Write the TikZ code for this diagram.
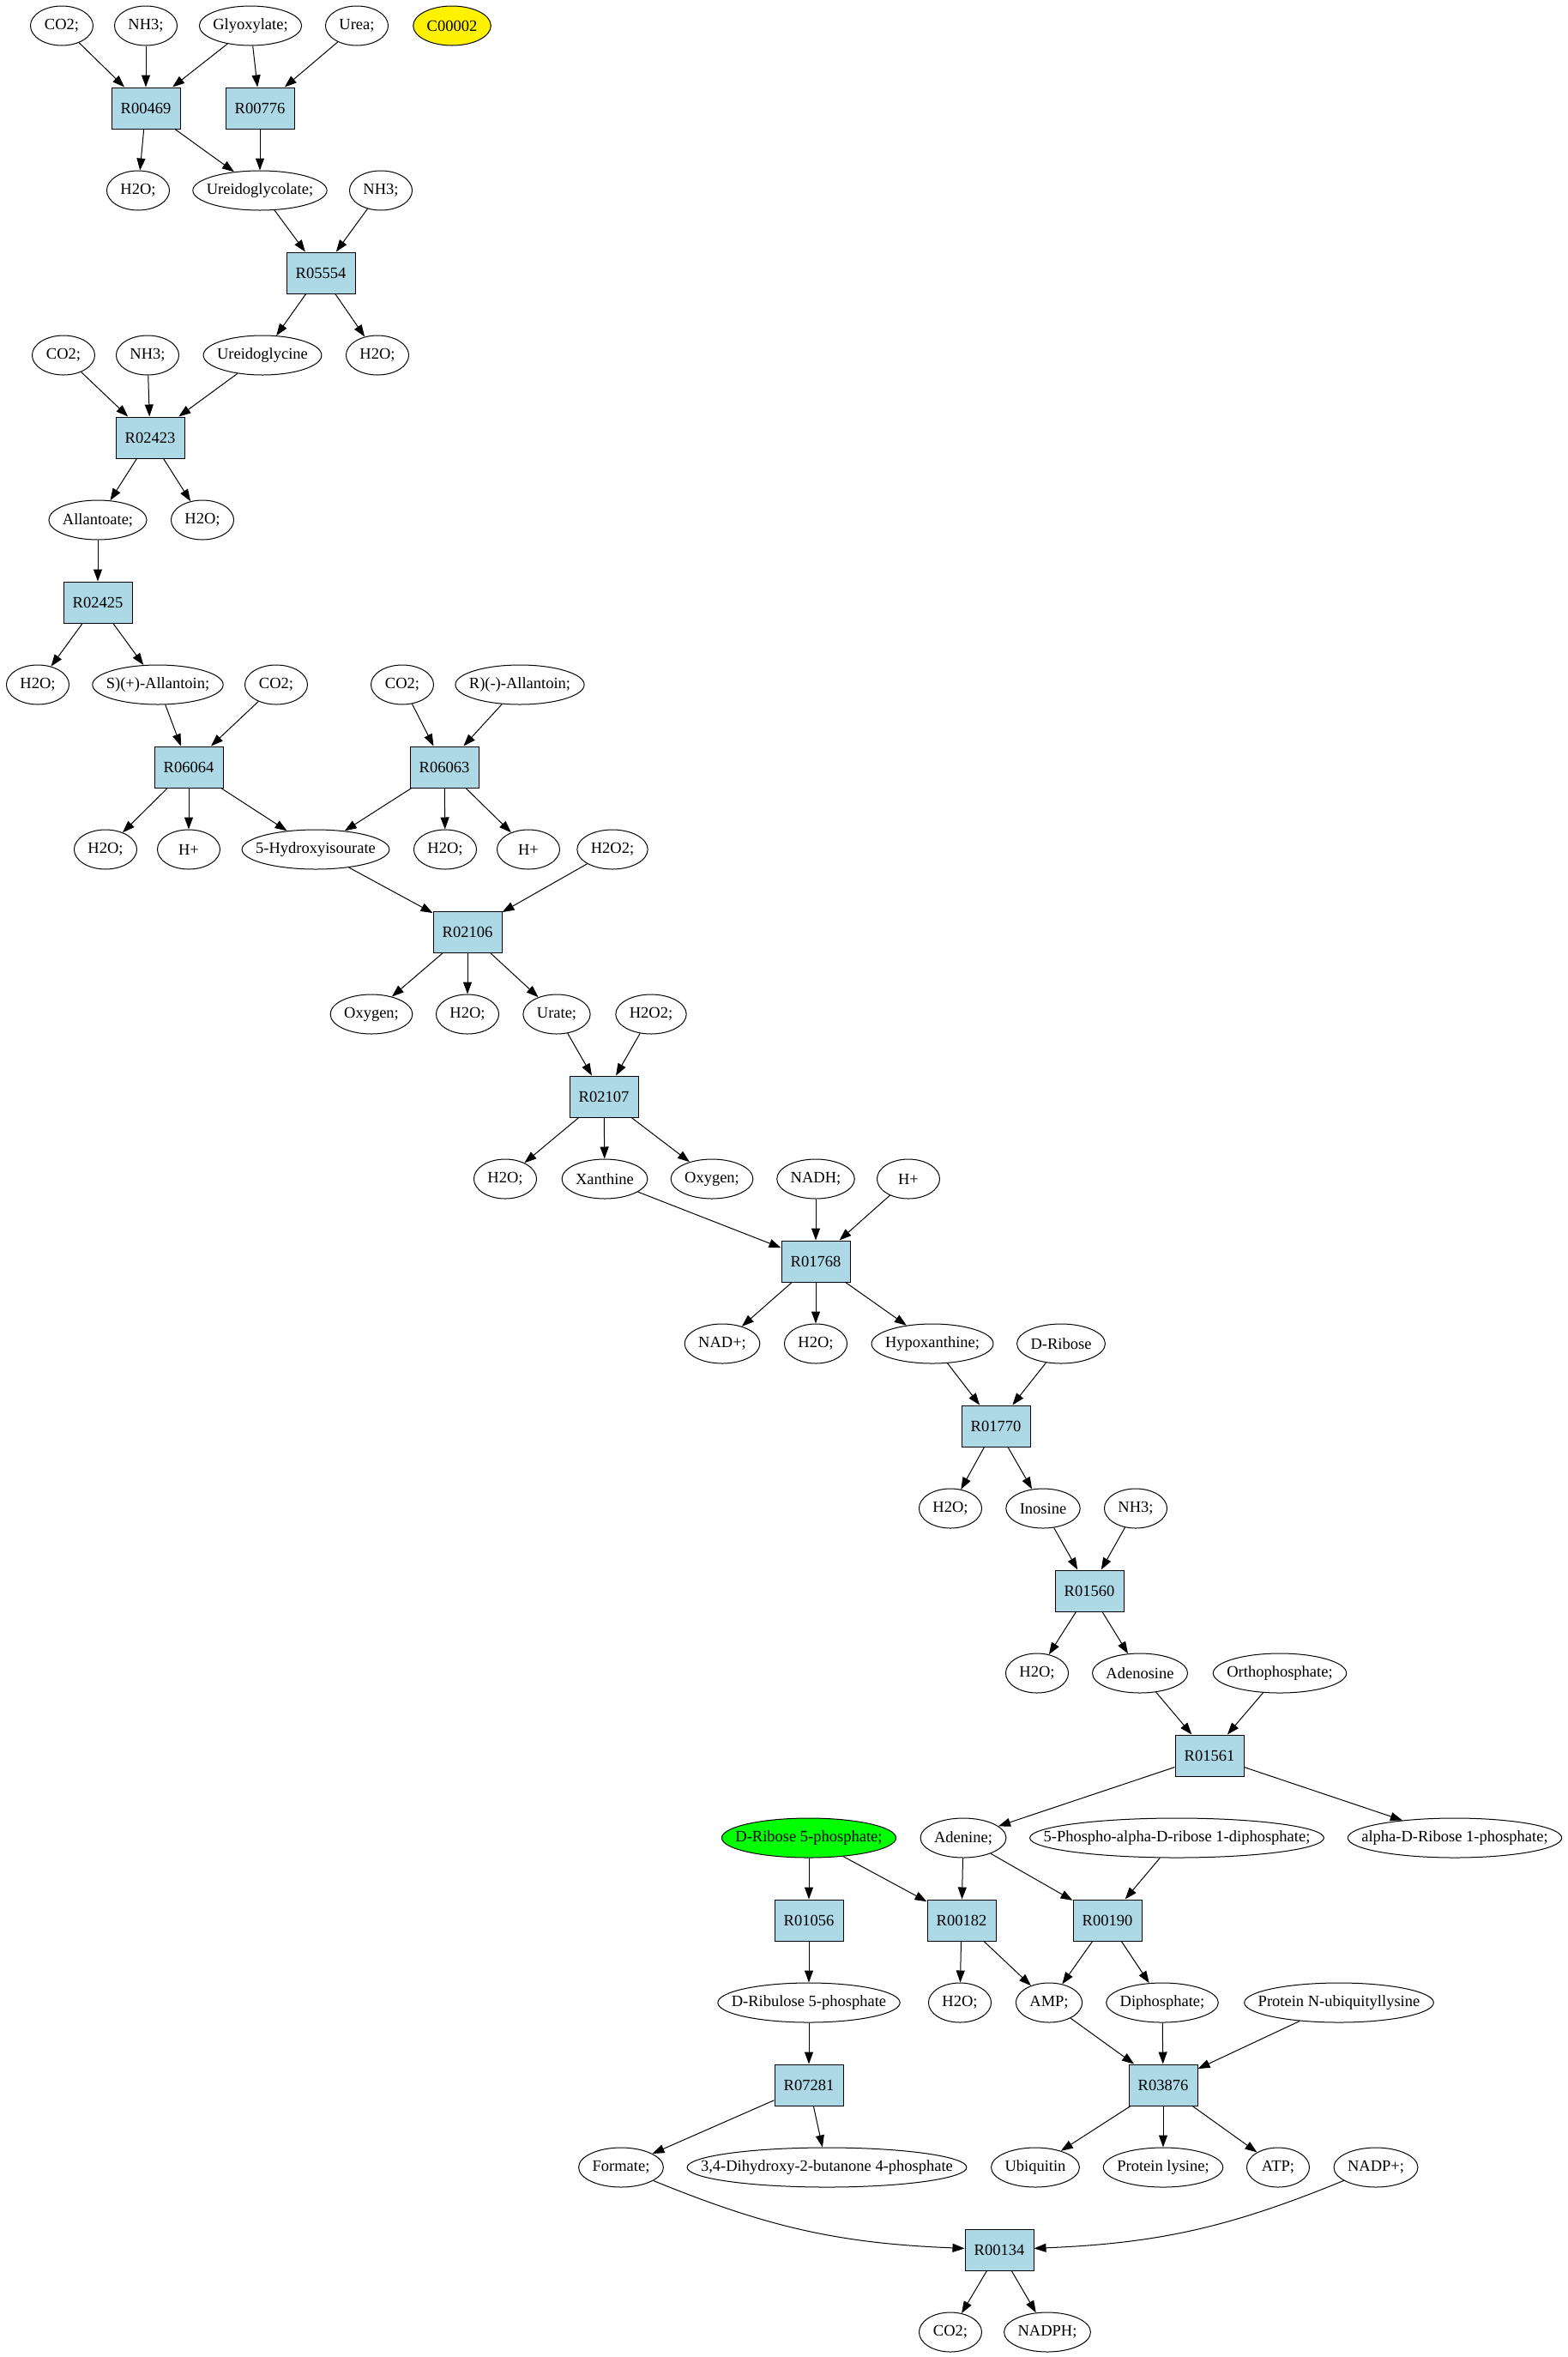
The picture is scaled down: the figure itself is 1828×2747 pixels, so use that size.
\documentclass[tikz,border=0pt]{standalone}
\usepackage{fontspec}
\setmainfont{Liberation Serif}
\usetikzlibrary{arrows.meta,shapes.geometric}
\definecolor{lightblue}{HTML}{ADD8E6}
\newcommand\cpdfont{\fontsize{18.5}{22}\selectfont}
\newlength\cpdtw
% compound node: ellipse as wide as its text plus a margin
\newcommand\cpd[4][]{%
  \node[cpd,#1] (#2) at (#3) {\settowidth\cpdtw{#4}\global\cpdtw=\cpdtw\makebox[0pt]{#4}};}

\begin{document}
\begin{tikzpicture}[x=1pt,y=-1pt,line width=1pt,>={Triangle[length=14pt,width=10pt]}]
\tikzstyle{every node}=[font=\cpdfont]
\tikzstyle{cpd}=[draw,ellipse,minimum height=46pt,minimum width={max(73pt,\cpdtw+32pt)},inner xsep=0pt,inner ysep=0pt]
\tikzstyle{rxn}=[draw,rectangle,fill=lightblue,minimum width=80pt,minimum height=48pt,inner sep=0pt]
\useasboundingbox (0,0) rectangle (1828,2747);
% compounds and reactions, row by row
\cpd{co2a}{72,30}{CO2;}
\cpd{nh3a}{170,30}{NH3;}
\cpd{glyox}{292,30}{Glyoxylate;}
\cpd{urea}{416,30}{Urea;}
\cpd[fill=yellow]{c00002}{527,30}{C00002}
\node[rxn] (r00469) at (170,126) {R00469};
\node[rxn] (r00776) at (303,126) {R00776};
\cpd{h2oa}{161,222}{H2O;}
\cpd{uglycolate}{303,222}{Ureidoglycolate;}
\cpd{nh3b}{444,222}{NH3;}
\node[rxn] (r05554) at (374,318) {R05554};
\cpd{co2b}{74,414}{CO2;}
\cpd{nh3c}{172,414}{NH3;}
\cpd{uglycine}{306,414}{Ureidoglycine}
\cpd{h2ob}{440,414}{H2O;}
\node[rxn] (r02423) at (175,510) {R02423};
\cpd{allantoate}{114,606}{Allantoate;}
\cpd{h2oc}{236,606}{H2O;}
\node[rxn] (r02425) at (114,702) {R02425};
\cpd{h2od}{44,798}{H2O;}
\cpd{sallantoin}{184,798}{S)(+)-Allantoin;}
\cpd{co2c}{322,798}{CO2;}
\cpd{co2d}{469,798}{CO2;}
\cpd{rallantoin}{606,798}{R)(-)-Allantoin;}
\node[rxn] (r06064) at (220,894) {R06064};
\node[rxn] (r06063) at (518,894) {R06063};
\cpd{h2oe}{123,990}{H2O;}
\cpd{hpa}{220,990}{H+}
\cpd{hiu}{368,990}{5-Hydroxyisourate}
\cpd{h2of}{519,990}{H2O;}
\cpd{hpb}{616,990}{H+}
\cpd{hpoa}{714,990}{H2O2;}
\node[rxn] (r02106) at (545,1086) {R02106};
\cpd{oxya}{433,1182}{Oxygen;}
\cpd{h2og}{545,1182}{H2O;}
\cpd{urate}{649,1182}{Urate;}
\cpd{hpob}{759,1182}{H2O2;}
\node[rxn] (r02107) at (704,1278) {R02107};
\cpd{h2oh}{589,1374}{H2O;}
\cpd{xanthine}{705,1374}{Xanthine}
\cpd{oxyb}{830,1374}{Oxygen;}
\cpd{nadh}{951,1374}{NADH;}
\cpd{hpc}{1059,1374}{H+}
\node[rxn] (r01768) at (951,1470) {R01768};
\cpd{nad}{842,1566}{NAD+;}
\cpd{h2oi}{951,1566}{H2O;}
\cpd{hypox}{1087,1566}{Hypoxanthine;}
\cpd{ribose}{1237,1566}{D-Ribose}
\node[rxn] (r01770) at (1161,1662) {R01770};
\cpd{h2oj}{1108,1758}{H2O;}
\cpd{inosine}{1216,1758}{Inosine}
\cpd{nh3d}{1324,1758}{NH3;}
\node[rxn] (r01560) at (1270,1854) {R01560};
\cpd{h2ok}{1209,1950}{H2O;}
\cpd{adenosine}{1329,1950}{Adenosine}
\cpd{ortho}{1492,1950}{Orthophosphate;}
\node[rxn] (r01561) at (1410,2046) {R01561};
\cpd[fill=green]{r5p}{943,2142}{D-Ribose 5-phosphate;}
\cpd{adenine}{1123,2142}{Adenine;}
\cpd{prpp}{1372,2142}{5-Phospho-alpha-D-ribose 1-diphosphate;}
\cpd{r1p}{1696,2142}{alpha-D-Ribose 1-phosphate;}
\node[rxn] (r01056) at (943,2238) {R01056};
\node[rxn] (r00182) at (1121,2238) {R00182};
\node[rxn] (r00190) at (1291,2238) {R00190};
\cpd{ru5p}{943,2334}{D-Ribulose 5-phosphate}
\cpd{h2ol}{1119,2334}{H2O;}
\cpd{amp}{1223,2334}{AMP;}
\cpd{ppi}{1355,2334}{Diphosphate;}
\cpd{ublys}{1561,2334}{Protein N-ubiquityllysine}
\node[rxn] (r07281) at (943,2430) {R07281};
\node[rxn] (r03876) at (1356,2430) {R03876};
\cpd{formate}{724,2526}{Formate;}
\cpd{dhbp}{964,2526}{3,4-Dihydroxy-2-butanone 4-phosphate}
\cpd{ubiquitin}{1207,2526}{Ubiquitin}
\cpd{lysine}{1356,2526}{Protein lysine;}
\cpd{atp}{1490,2526}{ATP;}
\cpd{nadp}{1604,2526}{NADP+;}
\node[rxn] (r00134) at (1165,2622) {R00134};
\cpd{co2e}{1108,2718}{CO2;}
\cpd{nadph}{1221,2718}{NADPH;}
% substrates -> reaction -> products
\path[->] (co2a) edge (r00469) (nh3a) edge (r00469) (glyox) edge (r00469);
\path[->] (glyox) edge (r00776) (urea) edge (r00776);
\path[->] (r00469) edge (h2oa) (r00469) edge (uglycolate) (r00776) edge (uglycolate);
\path[->] (uglycolate) edge (r05554) (nh3b) edge (r05554);
\path[->] (r05554) edge (uglycine) (r05554) edge (h2ob);
\path[->] (co2b) edge (r02423) (nh3c) edge (r02423) (uglycine) edge (r02423);
\path[->] (r02423) edge (allantoate) (r02423) edge (h2oc);
\path[->] (allantoate) edge (r02425);
\path[->] (r02425) edge (h2od) (r02425) edge (sallantoin);
\path[->] (sallantoin) edge (r06064) (co2c) edge (r06064);
\path[->] (co2d) edge (r06063) (rallantoin) edge (r06063);
\path[->] (r06064) edge (h2oe) (r06064) edge (hpa) (r06064) edge (hiu);
\path[->] (r06063) edge (hiu) (r06063) edge (h2of) (r06063) edge (hpb);
\path[->] (hiu) edge (r02106) (hpoa) edge (r02106);
\path[->] (r02106) edge (oxya) (r02106) edge (h2og) (r02106) edge (urate);
\path[->] (urate) edge (r02107) (hpob) edge (r02107);
\path[->] (r02107) edge (h2oh) (r02107) edge (xanthine) (r02107) edge (oxyb);
\path[->] (xanthine) edge (r01768) (nadh) edge (r01768) (hpc) edge (r01768);
\path[->] (r01768) edge (nad) (r01768) edge (h2oi) (r01768) edge (hypox);
\path[->] (hypox) edge (r01770) (ribose) edge (r01770);
\path[->] (r01770) edge (h2oj) (r01770) edge (inosine);
\path[->] (inosine) edge (r01560) (nh3d) edge (r01560);
\path[->] (r01560) edge (h2ok) (r01560) edge (adenosine);
\path[->] (adenosine) edge (r01561) (ortho) edge (r01561);
\path[->] (r01561) edge (adenine) (r01561) edge (r1p);
\path[->] (r5p) edge (r01056) (r5p) edge (r00182) (adenine) edge (r00182);
\path[->] (adenine) edge (r00190) (prpp) edge (r00190);
\path[->] (r01056) edge (ru5p);
\path[->] (r00182) edge (h2ol) (r00182) edge (amp);
\path[->] (r00190) edge (amp) (r00190) edge (ppi);
\path[->] (ru5p) edge (r07281);
\path[->] (amp) edge (r03876) (ppi) edge (r03876) (ublys) edge (r03876);
\path[->] (r07281) edge (formate) (r07281) edge (dhbp);
\path[->] (r03876) edge (ubiquitin) (r03876) edge (lysine) (r03876) edge (atp);
\path[->] (formate) edge[bend right=10] (r00134) (nadp) edge[bend left=10] (r00134);
\path[->] (r00134) edge (co2e) (r00134) edge (nadph);
\end{tikzpicture}
\end{document}
